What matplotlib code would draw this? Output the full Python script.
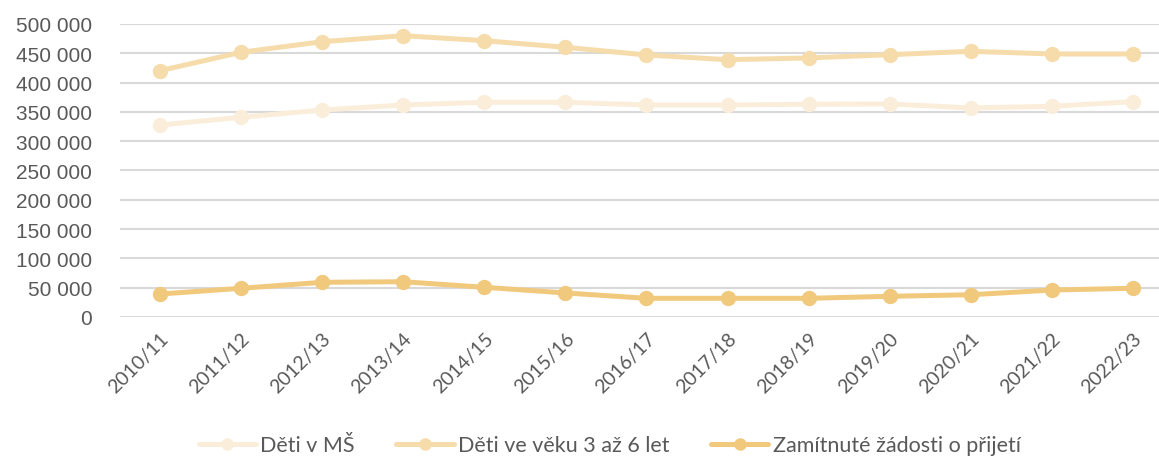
import matplotlib
matplotlib.use('Agg')
import matplotlib.pyplot as plt
from matplotlib.ticker import FuncFormatter

plt.rcParams['font.family'] = ['Lato', 'DejaVu Sans']

years = ['2010/11', '2011/12', '2012/13', '2013/14', '2014/15', '2015/16', '2016/17',
         '2017/18', '2018/19', '2019/20', '2020/21', '2021/22', '2022/23']
deti_ms = [327600, 340800, 353200, 361800, 366400, 366400, 361800,
           361800, 363000, 363500, 356700, 359600, 367400]
deti_3_6 = [420300, 451700, 469800, 480000, 471500, 460200, 447100,
            439100, 442000, 447600, 453400, 448800, 448800]
zamitnute = [39200, 49000, 59200, 60200, 50700, 41000, 31900,
             31900, 31900, 35300, 38000, 46000, 49000]

labels = ['Děti v MŠ', 'Děti ve věku 3 až 6 let', 'Zamítnuté žádosti o přijetí']
colors = ['#faeedb', '#f6dcab', '#f1c97d']
txt = '#595959'

fig = plt.figure(figsize=(11.59, 4.6), dpi=100)
ax = fig.add_axes([0.1035, 0.3087, 0.8965, 0.637])

x = range(len(years))
for data, lab, c in zip([deti_ms, deti_3_6, zamitnute], labels, colors):
    ax.plot(x, data, color=c, lw=3.6, marker='o', markersize=10, label=lab,
            solid_capstyle='round')

ax.set_ylim(0, 500000)
ax.set_xlim(-0.493, 12.32)
ax.set_yticks(range(0, 500001, 50000))
ax.yaxis.set_major_formatter(FuncFormatter(lambda v, p: '{:,}'.format(int(v)).replace(',', ' ')))
ax.set_xticks(list(x))
ax.set_xticklabels(years, rotation=45, ha='right', rotation_mode='anchor')
ax.tick_params(axis='both', length=0, colors=txt)
ax.tick_params(axis='y', pad=20, labelsize=15)
ax.tick_params(axis='x', pad=9, labelsize=14)
for t in ax.get_yticklabels():
    t.set_family(['Liberation Sans', 'DejaVu Sans'])
ax.grid(axis='y', color='#d9d9d9', lw=1.5)
ax.set_axisbelow(True)
for s in ax.spines.values():
    s.set_visible(False)

leg = fig.legend(loc='center', bbox_to_anchor=(0.526, 0.03), ncol=3, frameon=False,
                 fontsize=15.5, handlelength=2.65, columnspacing=1.95, handletextpad=0.2,
                 markerscale=0.8, borderpad=0.1)
for t in leg.get_texts():
    t.set_color(txt)

fig.savefig('out.png', dpi=100)
